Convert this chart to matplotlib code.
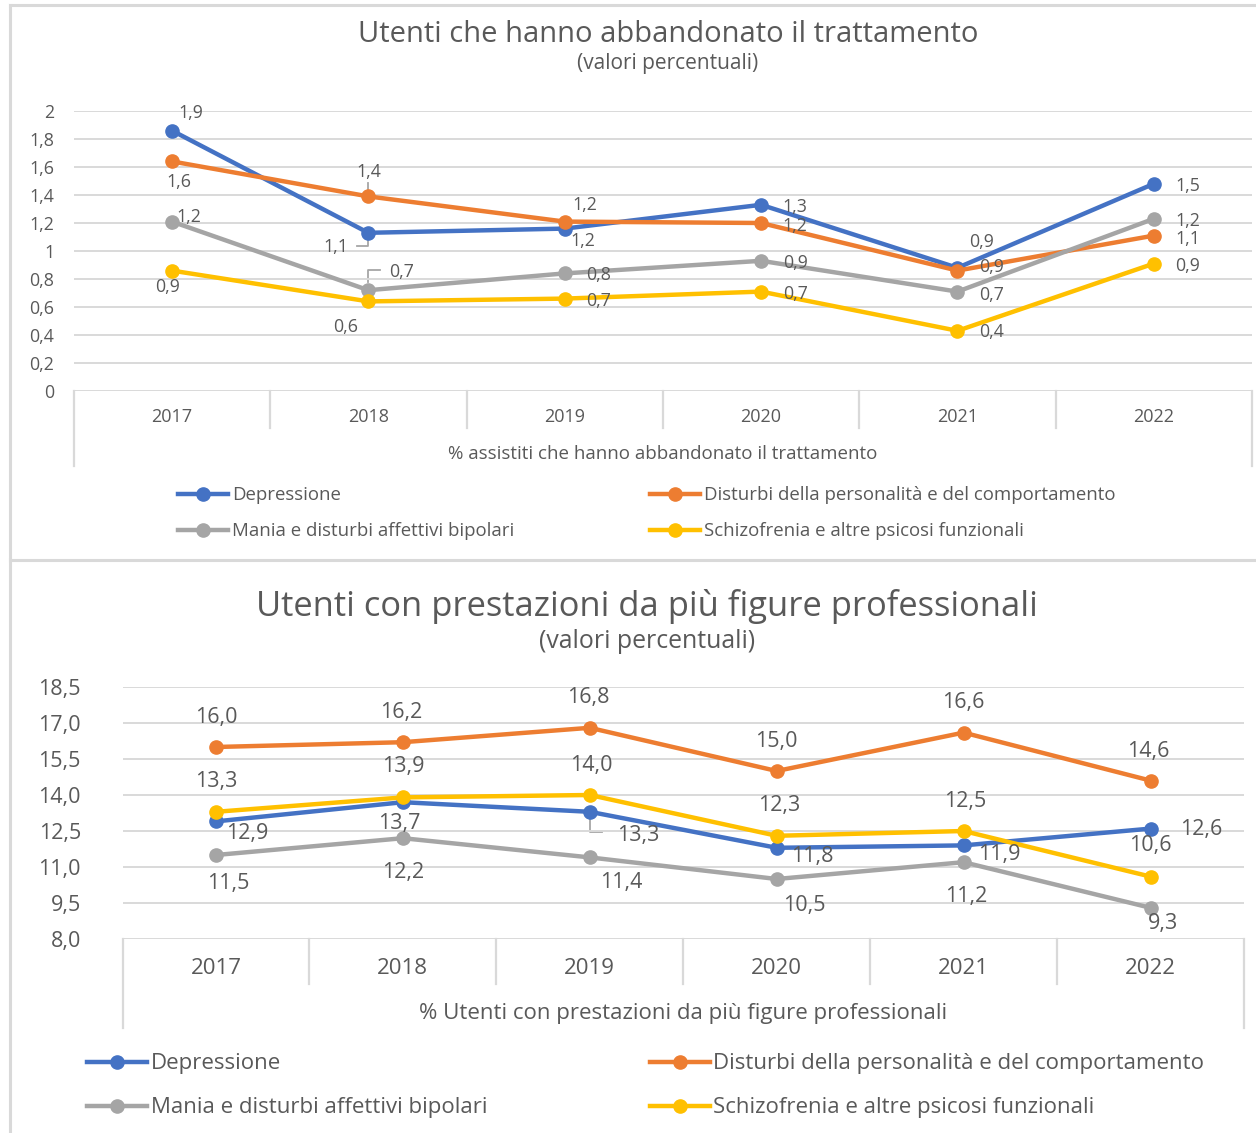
import matplotlib
matplotlib.use("Agg")
import matplotlib.pyplot as plt
from matplotlib.lines import Line2D
from matplotlib.transforms import blended_transform_factory

plt.rcParams['font.family'] = ['Open Sans', 'DejaVu Sans']

# ---------------------------------------------------------------- data
years = ["2017", "2018", "2019", "2020", "2021", "2022"]
series_names = [
    "Depressione",
    "Disturbi della personalità e del comportamento",
    "Mania e disturbi affettivi bipolari",
    "Schizofrenia e altre psicosi funzionali",
]

# % assistiti che hanno abbandonato il trattamento
drop_depressione = [1.86, 1.13, 1.16, 1.33, 0.88, 1.48]
drop_disturbi = [1.64, 1.39, 1.21, 1.20, 0.86, 1.11]
drop_mania = [1.21, 0.72, 0.84, 0.93, 0.71, 1.23]
drop_schizofrenia = [0.86, 0.64, 0.66, 0.71, 0.43, 0.91]

# % utenti con prestazioni da più figure professionali
multi_depressione = [12.9, 13.7, 13.3, 11.8, 11.9, 12.6]
multi_disturbi = [16.0, 16.2, 16.8, 15.0, 16.6, 14.6]
multi_mania = [11.5, 12.2, 11.4, 10.5, 11.2, 9.3]
multi_schizofrenia = [13.3, 13.9, 14.0, 12.3, 12.5, 10.6]

# ---------------------------------------------------------------- style
W, H = 1256, 1133
COLORS = ["#4472C4", "#ED7D31", "#A5A5A5", "#FFC000"]
TXT = "#595959"
GRID = "#D9D9D9"

fig = plt.figure(figsize=(W / 100, H / 100), dpi=100)
fig.patch.set_facecolor("white")

# full-figure canvas in pixel units for frames, titles and legends
canvas = fig.add_axes([0, 0, 1, 1], zorder=0)
canvas.set_xlim(0, W)
canvas.set_ylim(H, 0)
canvas.axis("off")


def rect(x0, y0, x1, y1):
    return [x0 / W, 1 - y1 / H, (x1 - x0) / W, (y1 - y0) / H]


def fmt(v):
    return f"{v:.1f}".replace(".", ",")


def to_canvas(ax, x, y):
    disp = ax.transData.transform((x, y))
    return canvas.transData.inverted().transform(disp)


# chart frames
for seg in [((10, 10), (5, 560)), ((10, W), (5, 5)), ((10, W), (560, 560)),
            ((10, 10), (560, H))]:
    canvas.add_line(Line2D(seg[0], seg[1], color=GRID, lw=2.2))


def draw_chart(box, ylim, yticks, ytick_fmt, series, offsets, leaders,
               sizes, cat_y, sep_inner, sep_outer, axis_title, axis_title_y,
               title, title_y, subtitle, subtitle_y, title_x, legend_spec,
               ytick_pad):
    ax = fig.add_axes(rect(*box), zorder=2)
    ax.set_xlim(-0.5, 5.5)
    ax.set_ylim(*ylim)
    ax.patch.set_alpha(0)
    for s in ax.spines.values():
        s.set_visible(False)
    ax.set_yticks(yticks)
    ax.set_yticklabels([ytick_fmt(t) for t in yticks], color=TXT,
                       fontsize=sizes["tick"])
    ax.tick_params(axis="y", length=0, pad=ytick_pad)
    ax.set_xticks([])
    for t in yticks:
        ax.axhline(t, color=GRID, lw=1.4, zorder=0)

    xs = list(range(len(years)))
    for vals, col, offs in zip(series, COLORS, offsets):
        ax.plot(xs, vals, color=col, lw=3.2, marker="o", ms=9.5,
                clip_on=False, zorder=3)
        for x, v, (dx, dy) in zip(xs, vals, offs):
            ax.annotate(fmt(v), (x, v), xytext=(dx, -dy - 1),
                        textcoords="offset pixels", ha="center", va="center",
                        color=TXT, fontsize=sizes["data"], zorder=4)

    # leader lines from labels to their points
    for si, xi, pts in leaders:
        px, py = to_canvas(ax, xi, series[si][xi])
        canvas.add_line(Line2D([px + p[0] for p in pts], [py + p[1] for p in pts],
                               color="#A6A6A6", lw=1.3))

    # category axis cells
    bt = blended_transform_factory(ax.transData, canvas.transData)
    y0 = to_canvas(ax, 0, ylim[0])[1]
    for k in range(7):
        xb = k - 0.5
        yend = sep_outer if k in (0, 6) else sep_inner
        canvas.add_line(Line2D([xb, xb], [y0, yend], color=GRID, lw=1.6,
                               transform=bt))
    for i, yr in enumerate(years):
        canvas.text(i, cat_y, yr, transform=bt, ha="center", va="center",
                    color=TXT, fontsize=sizes["cat"])
    canvas.text(2.5, axis_title_y, axis_title, transform=bt, ha="center",
                va="center", color=TXT, fontsize=sizes["axis"])

    canvas.text(title_x, title_y, title, ha="center", va="center",
                color=TXT, fontsize=sizes["title"])
    canvas.text(title_x, subtitle_y, subtitle, ha="center", va="center",
                color=TXT, fontsize=sizes["sub"])

    # legend, two columns
    for (lx0, lx1, tx, ly), name, col in zip(legend_spec, series_names, COLORS):
        canvas.add_line(Line2D([lx0, lx1], [ly, ly], color=col, lw=3.2))
        canvas.add_line(Line2D([(lx0 + lx1) / 2], [ly], color=col, marker="o",
                               ms=9.5))
        canvas.text(tx, ly + 1, name, ha="left", va="center", color=TXT,
                    fontsize=sizes["legend"])
    return ax


def tick_fmt_top(v):
    r = round(v, 1)
    if abs(r - round(r)) < 1e-9:
        return str(int(round(r)))
    return fmt(r)


# ---------------------------------------------------------------- chart 1
offsets_top = [
    [(19, -19), (-33, 13), (18, 11), (34, 1), (24, -27), (34, 1)],
    [(7, 20), (0, -25), (20, -18), (34, 2), (34, -5), (34, 2)],
    [(17, -6), (33, -19), (34, 1), (34, 1), (34, 2), (34, 1)],
    [(-4, 15), (-23, 25), (34, 1), (34, 1), (34, 0), (34, 1)],
]
leaders_top = [
    (0, 1, [(-11, 13), (0, 13), (0, 7)]),
    (1, 1, [(0, -13), (0, -6)]),
    (2, 1, [(0, -8), (0, -20), (12, -20)]),
]
draw_chart(
    box=(73.8, 111, 1252, 391), ylim=(0, 2),
    yticks=[round(0.2 * k, 1) for k in range(11)], ytick_fmt=tick_fmt_top,
    series=[drop_depressione, drop_disturbi, drop_mania, drop_schizofrenia],
    offsets=offsets_top, leaders=leaders_top,
    sizes=dict(tick=12.8, data=12.8, cat=13, axis=13.5, title=21,
               sub=15, legend=13.4),
    cat_y=417, sep_inner=428, sep_outer=466,
    axis_title="% assistiti che hanno abbandonato il trattamento",
    axis_title_y=454,
    title="Utenti che hanno abbandonato il trattamento", title_y=35,
    subtitle="(valori percentuali)", subtitle_y=64, title_x=668,
    legend_spec=[(178, 228, 232, 494), (650, 700, 704, 494),
                 (178, 228, 232, 530), (650, 700, 704, 530)],
    ytick_pad=14,
)

# ---------------------------------------------------------------- chart 2
offsets_bottom = [
    [(31, 11), (-4, 20), (48, 23), (36, 8), (36, 8), (51, 0)],
    [(0, -31), (-2, -31), (-1, -31), (0, -31), (0, -31), (-2, -30)],
    [(12, 27), (0, 33), (31, 24), (28, 26), (3, 33), (12, 15)],
    [(0, -31), (0, -32), (2, -31), (2, -31), (2, -31), (0, -32)],
]
leaders_bottom = [
    (0, 2, [(0, 7), (0, 20), (12, 20)]),
]
draw_chart(
    box=(122.5, 687, 1244, 939), ylim=(8, 18.5),
    yticks=[8 + 1.5 * k for k in range(8)], ytick_fmt=fmt,
    series=[multi_depressione, multi_disturbi, multi_mania, multi_schizofrenia],
    offsets=offsets_bottom, leaders=leaders_bottom,
    sizes=dict(tick=15.5, data=15.5, cat=16, axis=16, title=24.8, sub=17.9,
               legend=16),
    cat_y=969, sep_inner=984, sep_outer=1028,
    axis_title="% Utenti con prestazioni da più figure professionali",
    axis_title_y=1014,
    title="Utenti con prestazioni da più figure professionali", title_y=607,
    subtitle="(valori percentuali)", subtitle_y=642, title_x=647,
    legend_spec=[(87, 147, 151, 1062), (650, 710, 713, 1062),
                 (87, 147, 151, 1106), (650, 710, 713, 1106)],
    ytick_pad=30,
)

fig.savefig("out.png", dpi=100, facecolor="white")
